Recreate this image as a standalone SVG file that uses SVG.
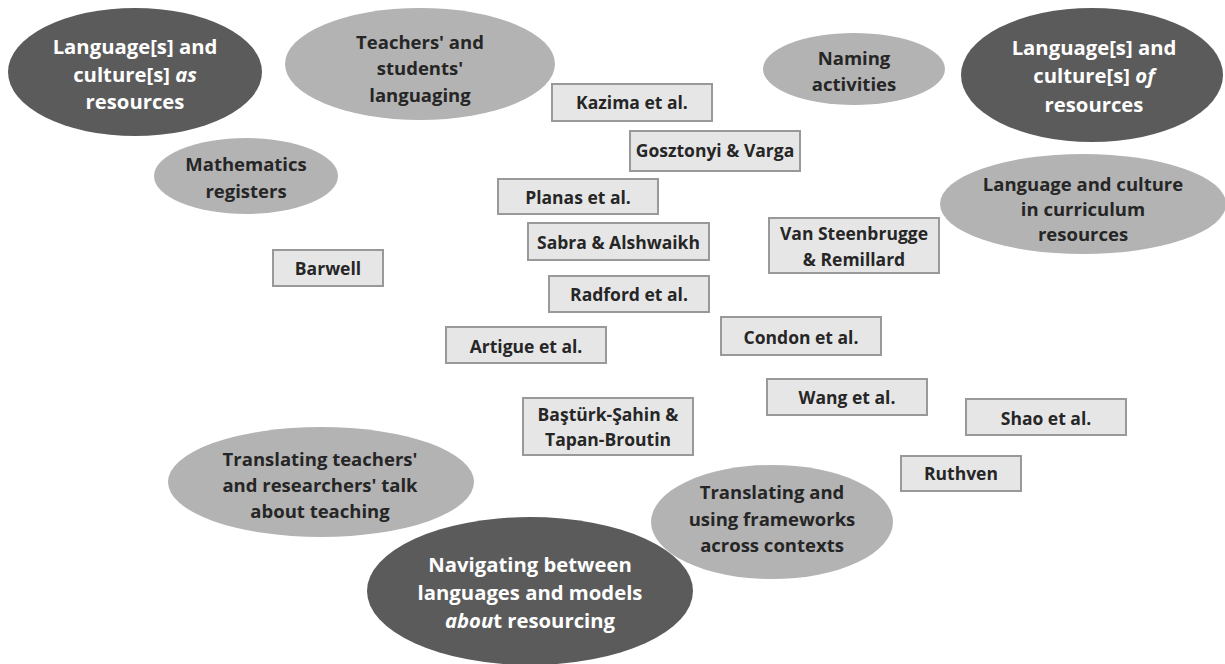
<svg xmlns="http://www.w3.org/2000/svg" width="1225" height="664" viewBox="0 0 1225 664">
<style>
text{font-family:"Open Sans","Noto Sans","Liberation Sans",sans-serif;font-weight:700;text-anchor:middle;dominant-baseline:central}
.dark{fill:#5b5b5b}
.light{fill:#b3b3b3}
.dt{fill:#ffffff;font-size:20.3px}
.lt{fill:#262626;font-size:18.5px}
.box{fill:#e6e6e6;stroke:#999999;stroke-width:2}
.bt{fill:#262626;font-size:17.5px}
</style>
<rect width="1225" height="664" fill="#ffffff"/>
<g id="connectors"></g>
<g id="n-as"><ellipse class="dark" cx="135" cy="72" rx="127" ry="64"/><text class="dt" x="135" y="46">Language[s] and</text><text class="dt" x="135" y="74">culture[s] <tspan font-style="italic">as</tspan></text><text class="dt" x="135" y="101">resources</text></g>
<g id="n-teachers"><ellipse class="light" cx="420" cy="64" rx="135" ry="56"/><text class="lt" x="420" y="41">Teachers' and</text><text class="lt" x="420" y="67">students'</text><text class="lt" x="420" y="94">languaging</text></g>
<g id="n-naming"><ellipse class="light" cx="854" cy="69" rx="91" ry="36"/><text class="lt" x="854" y="57">Naming</text><text class="lt" x="854" y="83">activities</text></g>
<g id="n-of"><ellipse class="dark" cx="1092" cy="75" rx="131" ry="67"/><text class="dt" x="1094" y="47">Language[s] and</text><text class="dt" x="1094" y="75">culture[s] <tspan font-style="italic">of</tspan></text><text class="dt" x="1094" y="104">resources</text></g>
<g id="n-math"><ellipse class="light" cx="246" cy="176" rx="92" ry="38"/><text class="lt" x="246" y="163">Mathematics</text><text class="lt" x="246" y="190">registers</text></g>
<g id="n-curric"><ellipse class="light" cx="1083" cy="204" rx="143" ry="50"/><text class="lt" x="1083" y="183">Language and culture</text><text class="lt" x="1083" y="208">in curriculum</text><text class="lt" x="1083" y="233">resources</text></g>
<g id="n-talk"><ellipse class="light" cx="321" cy="482" rx="153" ry="55"/><text class="lt" x="320" y="458">Translating teachers'</text><text class="lt" x="320" y="484">and researchers' talk</text><text class="lt" x="320" y="510">about teaching</text></g>
<g id="n-frameworks"><ellipse class="light" cx="772" cy="522" rx="121" ry="57"/><text class="lt" x="772" y="491">Translating and</text><text class="lt" x="772" y="518">using frameworks</text><text class="lt" x="772" y="544">across contexts</text></g>
<g id="n-navigating"><ellipse class="dark" cx="530" cy="591" rx="163" ry="74"/><text class="dt" x="530" y="564">Navigating between</text><text class="dt" x="530" y="592">languages and models</text><text class="dt" x="530" y="620"><tspan font-style="italic">abou</tspan>t resourcing</text></g>
<g id="b-kazima"><rect class="box" x="552" y="84" width="160" height="37"/><text class="bt" x="632" y="102">Kazima et al.</text></g>
<g id="b-gosztonyi"><rect class="box" x="630" y="131" width="170" height="40"/><text class="bt" x="715" y="150">Gosztonyi &amp; Varga</text></g>
<g id="b-planas"><rect class="box" x="498" y="179" width="160" height="35"/><text class="bt" x="578" y="197">Planas et al.</text></g>
<g id="b-sabra"><rect class="box" x="528" y="223" width="181" height="37"/><text class="bt" x="618.5" y="242">Sabra &amp; Alshwaikh</text></g>
<g id="b-van"><rect class="box" x="769" y="218" width="170" height="55"/><text class="bt" x="854" y="233">Van Steenbrugge</text><text class="bt" x="854" y="259">&amp; Remillard</text></g>
<g id="b-barwell"><rect class="box" x="273" y="250" width="110" height="36"/><text class="bt" x="328" y="268">Barwell</text></g>
<g id="b-radford"><rect class="box" x="549" y="276" width="160" height="36"/><text class="bt" x="629" y="294">Radford et al.</text></g>
<g id="b-artigue"><rect class="box" x="446" y="327" width="160" height="36"/><text class="bt" x="526" y="346">Artigue et al.</text></g>
<g id="b-condon"><rect class="box" x="721" y="317" width="160" height="38"/><text class="bt" x="801" y="337">Condon et al.</text></g>
<g id="b-wang"><rect class="box" x="767" y="379" width="160" height="36"/><text class="bt" x="847" y="397">Wang et al.</text></g>
<g id="b-shao"><rect class="box" x="966" y="399" width="160" height="36"/><text class="bt" x="1046" y="418">Shao et al.</text></g>
<g id="b-basturk"><rect class="box" x="523" y="398" width="170" height="57"/><text class="bt" x="608" y="414">Baştürk-Şahin &amp;</text><text class="bt" x="608" y="439">Tapan-Broutin</text></g>
<g id="b-ruthven"><rect class="box" x="901" y="456" width="120" height="35"/><text class="bt" x="961" y="473">Ruthven</text></g>
</svg>
